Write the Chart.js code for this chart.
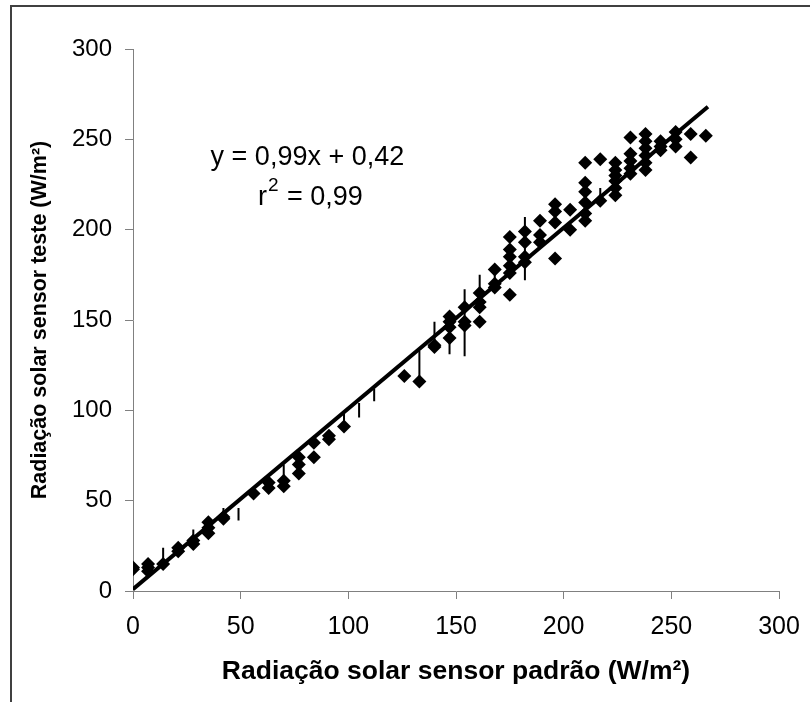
<!DOCTYPE html>
<html>
<head>
<meta charset="utf-8">
<script src="https://cdn.jsdelivr.net/npm/chart.js@4/dist/chart.umd.min.js"></script>
<style>
  html, body { margin: 0; padding: 0; background: #fff; width: 810px; height: 702px; overflow: hidden; }
  #frame { position: absolute; left: 10px; top: 5px; width: 820px; height: 720px;
           border-top: 2px solid #404040; border-left: 2px solid #404040; }
  #wrap { position: absolute; left: 0; top: 0; width: 810px; height: 702px; }
</style>
</head>
<body>
<div id="frame"></div>
<div id="wrap"><canvas id="c" width="810" height="702"></canvas></div>
<script>
// ---- data ----
const pointX = [
  0, 0,
  7, 7, 7,
  14,
  21, 21,
  28, 28,
  35, 35, 35,
  42, 42,
  56,
  63, 63,
  70, 70,
  77, 77, 77,
  84, 84,
  91, 91,
  98,
  126,
  133,
  140, 140,
  147, 147, 147, 147,
  154, 154, 154,
  161, 161, 161, 161,
  168, 168, 168,
  175, 175, 175, 175, 175, 175,
  182, 182, 182, 182,
  189, 189, 189,
  196, 196, 196, 196,
  203, 203,
  210, 210, 210, 210, 210, 210,
  217, 217,
  224, 224, 224, 224, 224, 224,
  231, 231, 231, 231, 231,
  238, 238, 238, 238, 238, 238,
  245, 245, 245,
  252, 252, 252,
  259, 259,
  266
];
const pointY = [
  13, 12,
  15, 13, 11,
  15,
  24, 22,
  28, 26,
  38, 35, 32,
  41, 40,
  54,
  60, 57,
  61, 58,
  74, 70, 65,
  82, 74,
  86, 84,
  91,
  119,
  116,
  136, 135,
  152, 149, 146, 140,
  157, 149, 147,
  165, 160, 157, 149,
  178, 170, 168,
  196, 189, 185, 180, 176, 164,
  199, 193, 185, 182,
  205, 197, 193,
  214, 210, 204, 184,
  211, 200,
  237, 226, 221, 215, 209, 205,
  239, 216,
  237, 233, 230, 227, 223, 219,
  251, 242, 238, 234, 231,
  253, 249, 245, 241, 237, 233,
  249, 246, 244,
  254, 250, 246,
  253, 240,
  252
];
// vertical bars: x, lower end, upper end
const barX    = [14, 28, 42, 49, 70, 84, 98, 105, 112, 133, 140, 147, 154, 161, 168, 182, 217];
const barLow  = [15, 23, 40, 39, 61, 82, 91,  96, 105, 116, 136, 131, 130, 157, 165, 172, 216];
const barHigh = [24, 34, 46, 46, 70, 85, 98, 104, 112, 133, 149, 149, 167, 175, 176, 207, 223];
// regression line endpoints
const fitX = [0, 267];
const fitY = [1, 268];
const xTicks = [0, 50, 100, 150, 200, 250, 300];
const yTicks = [0, 50, 100, 150, 200, 250, 300];
const xTitle = 'Radiação solar sensor padrão (W/m²)';
const yTitle = 'Radiação solar sensor teste (W/m²)';
const eqLine = 'y = 0,99x + 0,42';
const r2Value = '0,99';

// ---- build datasets ----
const pts = pointX.map((x, i) => ({ x: x, y: pointY[i] }));
const bars = [];
barX.forEach((x, i) => {
  bars.push({ x: x, y: barLow[i] });
  bars.push({ x: x, y: barHigh[i] });
  bars.push({ x: x, y: null });
});
const fit = fitX.map((x, i) => ({ x: x, y: fitY[i] }));

const FONT = "'Liberation Sans', Arial, sans-serif";

const eqPlugin = {
  id: 'eq',
  afterDraw(chart) {
    const ctx = chart.ctx;
    const xs = chart.scales.x, ys = chart.scales.y;
    ctx.save();
    ctx.fillStyle = '#000';
    ctx.font = '27px ' + FONT;
    ctx.textAlign = 'center';
    ctx.textBaseline = 'middle';
    const cx = xs.getPixelForValue(81);
    ctx.fillText(eqLine, cx, ys.getPixelForValue(240));
    // r² line
    const y2 = ys.getPixelForValue(218);
    const rest = ' = ' + r2Value;
    const wR = ctx.measureText('r').width;
    ctx.font = '19px ' + FONT;
    const wS = ctx.measureText('2').width + 2;
    ctx.font = '27px ' + FONT;
    const wRest = ctx.measureText(rest).width;
    const total = wR + wS + wRest;
    let sx = cx + 3 - total / 2;
    ctx.textAlign = 'left';
    ctx.fillText('r', sx, y2);
    ctx.font = '19px ' + FONT;
    ctx.fillText('2', sx + wR + 1, y2 - 11);
    ctx.font = '27px ' + FONT;
    ctx.fillText(rest, sx + wR + wS, y2);
    ctx.restore();
  }
};

new Chart(document.getElementById('c'), {
  type: 'scatter',
  data: {
    datasets: [
      {
        type: 'line', data: fit, borderColor: '#000', borderWidth: 4,
        pointRadius: 0, fill: false, tension: 0, order: 3
      },
      {
        type: 'line', data: bars, borderColor: '#000', borderWidth: 2,
        pointRadius: 0, fill: false, spanGaps: false, tension: 0, order: 2
      },
      {
        data: pts, pointStyle: 'rectRot', pointRadius: 7,
        backgroundColor: '#000', borderColor: '#000', borderWidth: 0, order: 1
      }
    ]
  },
  options: {
    responsive: false,
    animation: false,
    devicePixelRatio: 1,
    layout: { padding: { top: 49, right: 31, left: 0, bottom: 0 } },
    plugins: { legend: { display: false }, tooltip: { enabled: false } },
    scales: {
      x: {
        type: 'linear', min: 0, max: 300,
        afterBuildTicks: s => { s.ticks = xTicks.map(v => ({ value: v })); },
        afterFit: s => { s.height = 111; s.paddingLeft = 0; s.paddingRight = 0; },
        ticks: { color: '#000', font: { family: FONT, size: 25 }, padding: 13, maxRotation: 0 },
        grid: { display: true, drawOnChartArea: false, drawTicks: true, tickLength: 8, color: '#808080', lineWidth: 1 },
        border: { display: true, color: '#808080', width: 1 },
        title: { display: true, text: xTitle, color: '#000',
                 font: { family: FONT, size: 26.5, weight: 'bold' }, padding: { top: 0, bottom: 14 } }
      },
      y: {
        type: 'linear', min: 0, max: 300,
        afterBuildTicks: s => { s.ticks = yTicks.map(v => ({ value: v })); },
        afterFit: s => { s.width = 133; s.paddingTop = 0; s.paddingBottom = 0; },
        ticks: { color: '#000', font: { family: FONT, size: 24 }, padding: 13 },
        grid: { display: true, drawOnChartArea: false, drawTicks: true, tickLength: 8, color: '#808080', lineWidth: 1 },
        border: { display: true, color: '#808080', width: 1 },
        title: { display: true, text: yTitle, color: '#000',
                 font: { family: FONT, size: 21.5, weight: 'bold' }, padding: { top: 27, bottom: 0 } }
      }
    }
  },
  plugins: [eqPlugin]
});
</script>
</body>
</html>
